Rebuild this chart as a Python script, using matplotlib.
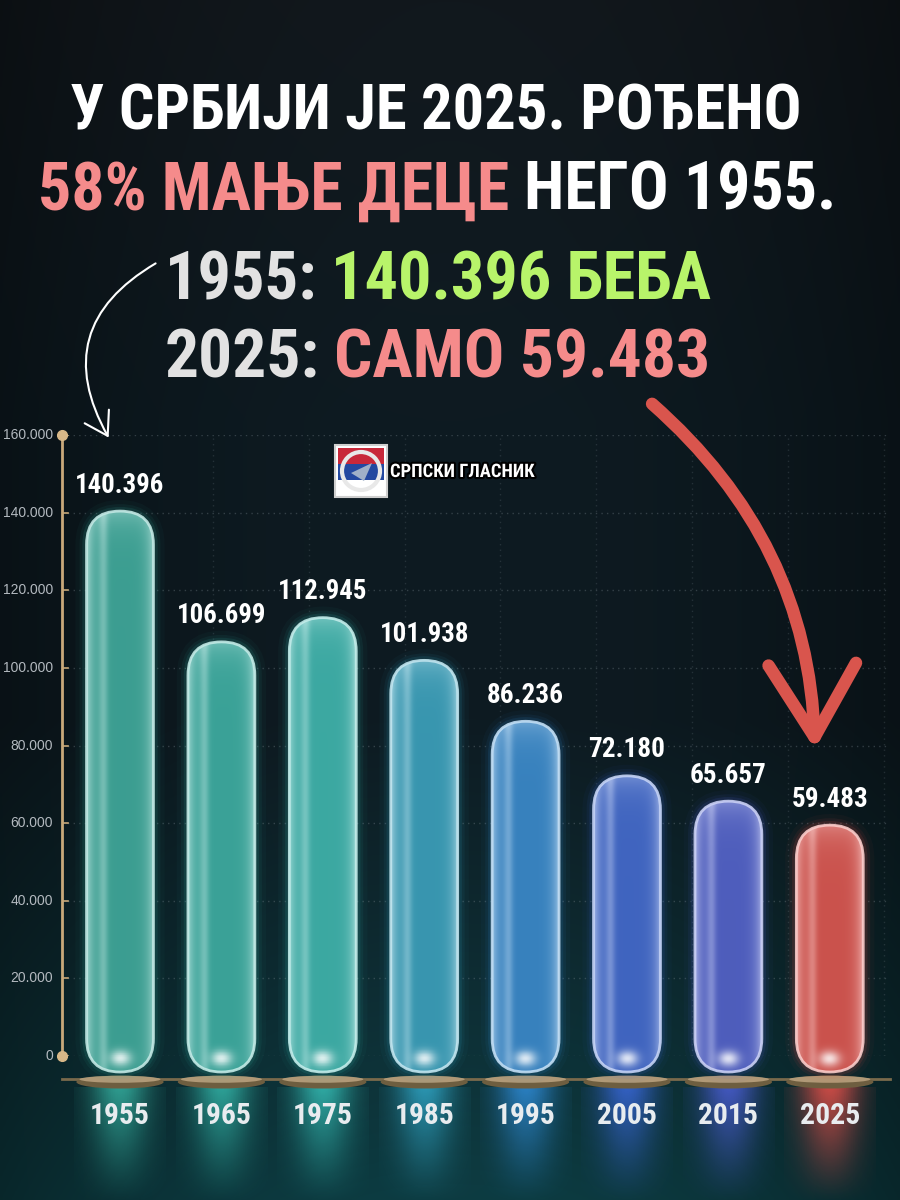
import numpy as np
import matplotlib
matplotlib.use('Agg')
import matplotlib.pyplot as plt
from matplotlib.patches import FancyBboxPatch, FancyArrowPatch, Rectangle, Ellipse, Polygon
from matplotlib.colors import to_rgb
import matplotlib.patheffects as pe

# data
years = ['1955', '1965', '1975', '1985', '1995', '2005', '2015', '2025']
births = [140396, 106699, 112945, 101938, 86236, 72180, 65657, 59483]
value_labels = ['140.396', '106.699', '112.945', '101.938', '86.236', '72.180', '65.657', '59.483']
yticks = [0, 20000, 40000, 60000, 80000, 100000, 120000, 140000, 160000]
ytick_labels = ['0', '20.000', '40.000', '60.000', '80.000', '100.000', '120.000', '140.000', '160.000']

bar_colors = ['#35b0a0', '#33b5a8', '#35bdb5', '#30a6c6', '#2f8cd8', '#3a68da', '#4c5fd6', '#e8514a']

W, H = 900, 1200
NARROW = ['Roboto Condensed', 'Liberation Sans Narrow', 'DejaVu Sans']
PLAIN = ['Liberation Sans', 'DejaVu Sans']

fig = plt.figure(figsize=(9, 12), dpi=100)
renderer = fig.canvas.get_renderer()

# background gradient
bg = fig.add_axes([0, 0, 1, 1])
bg.axis('off')
yy, xx = np.mgrid[0:1:400j, 0:1:300j]
top = np.array(to_rgb('#12181d'))
mid = np.array(to_rgb('#0e1b22'))
bot = np.array(to_rgb('#0d3c42'))
t = np.clip((yy - 0.6) / 0.4, 0, 1)[..., None]
img = mid * (1 - t) + bot * t
t2 = np.clip((0.35 - yy) / 0.35, 0, 1)[..., None]
img = img * (1 - t2) + top * t2
img = img * (1 - 0.35 * ((xx - 0.5) * 2) ** 2)[..., None]
bg.imshow(img, extent=(0, 1, 0, 1), aspect='auto', origin='upper')
bg.set_xlim(0, 1)
bg.set_ylim(0, 1)

# main chart axes
dx = 101.4            # px per category
ypp = 160000 / 621    # value per px
ax = fig.add_axes([62 / W, (H - 1056) / H, 828 / W, 621 / H])
xl = (62 - 120) / dx
xr = (890 - 120) / dx
ax.axis('off')


def fit(txt, width_px):
    w = txt.get_window_extent(renderer).width
    txt.set_fontsize(txt.get_fontsize() * width_px / w)


# grid, ticks, axis line
for v, lab in zip(yticks, ytick_labels):
    ax.plot([xl, xr], [v, v], ls=(0, (1, 3)), color='#7d8a92', lw=1, alpha=0.35, zorder=1)
    ax.plot([xl, xl + 6 / dx], [v, v], color='#c9a97a', lw=1.2, zorder=3)
    ax.text(xl - 9 / dx, v, lab, ha='right', va='center', color='#b3b9bf',
            fontsize=10, family=PLAIN, clip_on=False)
for gx_px in np.arange(213, 890, 95.8):
    xv = (gx_px - 120) / dx
    ax.plot([xv, xv], [0, 160000], ls=(0, (1, 3)), color='#7d8a92', lw=1, alpha=0.22, zorder=1)
ax.plot([xl, xl], [0, 160000], color='#c9a97a', lw=2, clip_on=False, zorder=3)
ax.plot([xl, xl], [0, 160000], 'o', color='#d8b888', ms=7, clip_on=False, zorder=3)
ax.plot([xl, xr], [-5800, -5800], color='#7a6a4c', lw=2, clip_on=False, zorder=2)

bw = 0.66
bot_y = -16 * ypp
aspect = dx * ypp


def pill(i, v, **kw):
    return FancyBboxPatch((i - bw / 2, bot_y), bw, v - bot_y,
                          boxstyle=f'round,pad=0,rounding_size={bw / 2}',
                          mutation_aspect=aspect, clip_on=False, **kw)


for i, (v, c) in enumerate(zip(births, bar_colors)):
    rgb = np.array(to_rgb(c))
    light = 1 - (1 - rgb) * 0.3

    # reflection under the bar
    ry = np.linspace(0, 1, 100)[:, None]
    rx = np.linspace(0, 1, 40)[None, :]
    refl = np.zeros((100, 40, 4))
    refl[..., :3] = rgb
    refl[..., 3] = 0.85 * (ry ** 1.1) * np.exp(-((rx - 0.5) / 0.32) ** 2)
    rim_ = ax.imshow(refl, extent=(i - 0.45, i + 0.45, -38000, -8000), origin='lower',
                     aspect='auto', zorder=1)
    rim_.set_clip_box(fig.bbox)

    # base plate
    ax.add_patch(Ellipse((i, -6700), 0.86, 13 * ypp, fc='#6e5e40', ec='none', zorder=2, clip_on=False))
    ax.add_patch(Ellipse((i, -6000), 0.8, 7 * ypp, fc='#c2a985', ec='none', alpha=0.8, zorder=2, clip_on=False))

    # glow
    for lw, a in [(16, 0.04), (10, 0.07), (6, 0.12)]:
        ax.add_patch(pill(i, v, fc='none', ec=c, lw=lw, alpha=a, zorder=3))

    body = pill(i, v, fc=c, ec='none', zorder=4)
    ax.add_patch(body)

    nx, ny = 64, 300
    gx, gy = np.meshgrid(np.linspace(0, 1, nx), np.linspace(0, 1, ny))
    hpx = (v - bot_y) / ypp
    rim = np.abs(2 * gx - 1) ** 5
    hl = 0.35 * np.exp(-((gx - 0.24) / 0.07) ** 2)
    glow = 0.9 * np.exp(-((gx - 0.5) / 0.16) ** 2) * np.exp(-(gy * hpx - 13) ** 2 / 60)
    sheen = 0.35 * np.exp(-((1 - gy) * hpx) / 14)
    mix = np.clip(0.1 + 0.6 * rim + hl + sheen, 0, 1)[..., None]
    arr = rgb * 0.85 * (1 - mix) + light * mix
    arr = arr * (1 - glow[..., None] * 0.9) + glow[..., None] * 0.9
    arr = np.clip(arr, 0, 1)
    im = ax.imshow(arr, extent=(i - bw / 2, i + bw / 2, bot_y, v), origin='lower',
                   aspect='auto', zorder=5)
    im.set_clip_box(fig.bbox)
    im.set_clip_path(body)
    ax.add_patch(pill(i, v, fc='none', ec=light, lw=2, alpha=0.9, zorder=6))

    vt = ax.annotate(value_labels[i], (i, v), xytext=(0, 9), textcoords='offset points',
                     ha='center', va='bottom', color='white', fontsize=20, fontweight='bold',
                     family=NARROW, fontstretch='condensed', zorder=7)
    fit(vt, 12.8 * len(value_labels[i]))
    yt = ax.text(i, -60 * ypp, years[i], ha='center', va='center', color='#e8ecef',
                 fontsize=22, fontweight='bold', family=NARROW, fontstretch='condensed',
                 clip_on=False, zorder=7)
    fit(yt, 60)

ax.set_xlim(xl, xr)
ax.set_ylim(0, 160000)


# title lines built from coloured pieces
def title_line(parts, base_y, width_px, cx=437):
    fs = 40
    texts = []
    for s, col in parts:
        texts.append(fig.text(0, 1 - base_y / H, s, color=col, fontsize=fs, fontweight='bold',
                              family=NARROW, fontstretch='condensed', ha='left', va='baseline'))
    widths = [tx.get_window_extent(renderer).width for tx in texts]
    gap = 0.22 * fs * 100 / 72
    total = sum(widths) + gap * (len(texts) - 1)
    scale = width_px / total
    for tx in texts:
        tx.set_fontsize(fs * scale)
    x = cx - width_px / 2
    for tx, w in zip(texts, widths):
        tx.set_x(x / W)
        x += (w + gap) * scale


WHITE = '#ffffff'
PINK = '#f58b8b'
GREEN = '#b8f46a'
GREY = '#e2e2e2'
title_line([('У СРБИЈИ ЈЕ 2025. РОЂЕНО', WHITE)], 130, 730, 435)
title_line([('58% МАЊЕ ДЕЦЕ', PINK), ('НЕГО 1955.', WHITE)], 210, 797, 437)
title_line([('1955:', GREY), ('140.396 БЕБА', GREEN)], 300, 547, 438)
title_line([('2025:', GREY), ('САМО 59.483', PINK)], 377, 545, 437)

# arrows
fig.patches.append(FancyArrowPatch((650 / W, 1 - 402 / H), (815 / W, 1 - 752 / H),
                                   transform=fig.transFigure, connectionstyle='arc3,rad=-0.22',
                                   arrowstyle='->,head_length=1.75,head_width=1.05',
                                   mutation_scale=30, lw=9, color='#d9554d',
                                   capstyle='round', joinstyle='round', zorder=5))
fig.patches.append(FancyArrowPatch((158 / W, 1 - 262 / H), (110 / W, 1 - 440 / H),
                                   transform=fig.transFigure, connectionstyle='arc3,rad=0.5',
                                   arrowstyle='->,head_length=0.8,head_width=0.5',
                                   mutation_scale=20, lw=1.5, color='white', zorder=5))

# logo
lx, ly, ls = 335, 445, 52
fig.patches.append(Rectangle((lx / W, 1 - (ly + ls) / H), ls / W, ls / H, transform=fig.transFigure,
                             fc='white', ec='#cfcfcf', lw=1.5, zorder=6))
for k, col in enumerate(['#c8283a', '#2348a0']):
    fig.patches.append(Rectangle(((lx + 3) / W, 1 - (ly + 3 + (k + 1) * 16) / H), (ls - 6) / W, 16 / H,
                                 transform=fig.transFigure, fc=col, ec='none', zorder=6))
fig.patches.append(Ellipse(((lx + ls / 2) / W, 1 - (ly + ls / 2) / H), 38 / W, 38 / H,
                           transform=fig.transFigure, fc='none', ec='#e8e8e8', lw=3, zorder=7))
fig.patches.append(Polygon([((lx + 16) / W, 1 - (ly + 28) / H), ((lx + 37) / W, 1 - (ly + 18) / H),
                            ((lx + 29) / W, 1 - (ly + 36) / H)], closed=True,
                           transform=fig.transFigure, fc='#9fb0c8', ec='none', zorder=7))
logo = fig.text(390 / W, 1 - 472 / H, 'СРПСКИ ГЛАСНИК', color='white', fontsize=15, fontweight='bold',
                family=NARROW, fontstretch='condensed', ha='left', va='center', zorder=8)
fit(logo, 145)
logo.set_path_effects([pe.withStroke(linewidth=3, foreground='black')])

fig.savefig('out.png', dpi=100)
